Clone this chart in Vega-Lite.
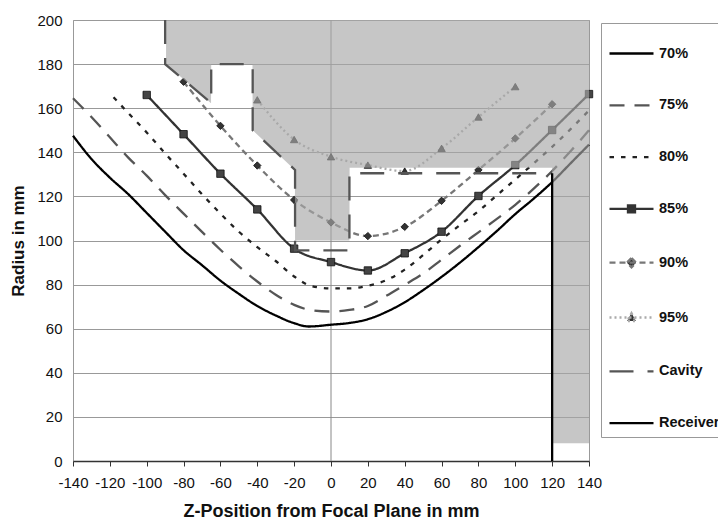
{
  "$schema": "https://vega.github.io/schema/vega-lite/v6.json",
  "width": 516,
  "height": 441,
  "autosize": {"type": "none"},
  "padding": {"left": 73, "top": 20, "right": 129, "bottom": 58},
  "background": "white",
  "config": {
    "view": {"stroke": "#999", "strokeWidth": 1},
    "axis": {"labelFont": "Liberation Sans", "labelFontSize": 15, "labelColor": "#111", "titleFont": "Liberation Sans", "titleFontSize": 18, "titleFontWeight": "bold", "titleColor": "#111"}
  },
  "datasets": {
    "curves": [
      {"series":"70%","x":-140,"y":147.5},{"series":"70%","x":-130,"y":137},{"series":"70%","x":-120,"y":128.5},{"series":"70%","x":-110,"y":121},{"series":"70%","x":-100,"y":112.5},{"series":"70%","x":-90,"y":104},{"series":"70%","x":-80,"y":95.6},{"series":"70%","x":-70,"y":88.8},{"series":"70%","x":-60,"y":81.8},{"series":"70%","x":-50,"y":75.8},{"series":"70%","x":-40,"y":70.3},{"series":"70%","x":-30,"y":66},{"series":"70%","x":-20,"y":62.5},{"series":"70%","x":-12,"y":61},{"series":"70%","x":0,"y":61.8},{"series":"70%","x":10,"y":62.6},{"series":"70%","x":20,"y":64.3},{"series":"70%","x":30,"y":67.6},{"series":"70%","x":40,"y":72},{"series":"70%","x":50,"y":77.5},{"series":"70%","x":60,"y":83.5},{"series":"70%","x":70,"y":90},{"series":"70%","x":80,"y":97},{"series":"70%","x":90,"y":104.3},{"series":"70%","x":100,"y":112},{"series":"70%","x":110,"y":119},{"series":"70%","x":120,"y":126.5},{"series":"70%","x":130,"y":135},{"series":"70%","x":140,"y":143.5},
      {"series":"75%","x":-140,"y":164.5},{"series":"75%","x":-130,"y":156},{"series":"75%","x":-120,"y":146.8},{"series":"75%","x":-110,"y":137.6},{"series":"75%","x":-100,"y":129.4},{"series":"75%","x":-90,"y":120.6},{"series":"75%","x":-80,"y":112.2},{"series":"75%","x":-70,"y":103.9},{"series":"75%","x":-60,"y":95.8},{"series":"75%","x":-50,"y":88.3},{"series":"75%","x":-40,"y":81.4},{"series":"75%","x":-30,"y":75.4},{"series":"75%","x":-20,"y":70.8},{"series":"75%","x":-10,"y":68.3},{"series":"75%","x":0,"y":67.8},{"series":"75%","x":10,"y":68.5},{"series":"75%","x":20,"y":70.3},{"series":"75%","x":30,"y":74.9},{"series":"75%","x":40,"y":79.9},{"series":"75%","x":50,"y":85},{"series":"75%","x":60,"y":91.3},{"series":"75%","x":70,"y":97.6},{"series":"75%","x":80,"y":103.7},{"series":"75%","x":90,"y":109.8},{"series":"75%","x":100,"y":116.2},{"series":"75%","x":110,"y":123.5},{"series":"75%","x":120,"y":131.5},{"series":"75%","x":130,"y":140.5},{"series":"75%","x":140,"y":150},
      {"series":"80%","x":-118,"y":165},{"series":"80%","x":-110,"y":157.8},{"series":"80%","x":-100,"y":149},{"series":"80%","x":-90,"y":139.5},{"series":"80%","x":-80,"y":130.3},{"series":"80%","x":-70,"y":121},{"series":"80%","x":-60,"y":112.2},{"series":"80%","x":-50,"y":104},{"series":"80%","x":-40,"y":97},{"series":"80%","x":-30,"y":90.7},{"series":"80%","x":-20,"y":83.7},{"series":"80%","x":-10,"y":79.2},{"series":"80%","x":0,"y":78.3},{"series":"80%","x":10,"y":78.3},{"series":"80%","x":20,"y":79.5},{"series":"80%","x":30,"y":82},{"series":"80%","x":40,"y":86.8},{"series":"80%","x":50,"y":93.4},{"series":"80%","x":60,"y":100.5},{"series":"80%","x":70,"y":107},{"series":"80%","x":80,"y":113.3},{"series":"80%","x":90,"y":120.5},{"series":"80%","x":100,"y":127.7},{"series":"80%","x":110,"y":135},{"series":"80%","x":120,"y":142.5},{"series":"80%","x":130,"y":150.5},{"series":"80%","x":140,"y":159},
      {"series":"85%","x":-100,"y":166},{"series":"85%","x":-80,"y":148.2},{"series":"85%","x":-60,"y":130.3},{"series":"85%","x":-40,"y":114.1},{"series":"85%","x":-20,"y":96.3},{"series":"85%","x":0,"y":90.2},{"series":"85%","x":20,"y":86.4},{"series":"85%","x":40,"y":94.2},{"series":"85%","x":60,"y":104},{"series":"85%","x":80,"y":120.2},{"series":"85%","x":100,"y":134.2},{"series":"85%","x":120,"y":150.1},{"series":"85%","x":140,"y":166.4},
      {"series":"90%","x":-80,"y":172},{"series":"90%","x":-60,"y":152},{"series":"90%","x":-40,"y":134},{"series":"90%","x":-20,"y":118.4},{"series":"90%","x":0,"y":108.2},{"series":"90%","x":20,"y":102},{"series":"90%","x":40,"y":106.2},{"series":"90%","x":60,"y":118},{"series":"90%","x":80,"y":132},{"series":"90%","x":100,"y":146.3},{"series":"90%","x":120,"y":161.8},
      {"series":"95%","x":-40,"y":163.8},{"series":"95%","x":-20,"y":145.8},{"series":"95%","x":0,"y":138},{"series":"95%","x":20,"y":134.2},{"series":"95%","x":40,"y":131.5},{"series":"95%","x":60,"y":141.8},{"series":"95%","x":80,"y":156},{"series":"95%","x":100,"y":169.8}
    ],
    "outline": [
      {"series":"Cavity","i":0,"x":-90,"y":200},{"series":"Cavity","i":1,"x":-90,"y":180},{"series":"Cavity","i":2,"x":-65,"y":162.3},{"series":"Cavity","i":3,"x":-65,"y":180},{"series":"Cavity","i":4,"x":-42.5,"y":180},{"series":"Cavity","i":5,"x":-42.5,"y":150},{"series":"Cavity","i":6,"x":-19.5,"y":132},{"series":"Cavity","i":7,"x":-19.5,"y":95.5},{"series":"Cavity","i":8,"x":10,"y":95.5},{"series":"Cavity","i":9,"x":10,"y":130.5},{"series":"Cavity","i":10,"x":120,"y":130.5},
      {"series":"Receiver","i":0,"x":120,"y":130.5},{"series":"Receiver","i":1,"x":120,"y":0}
    ],
    "shade": [
      {"x":-89.5,"y":180},{"x":-65.1,"y":162.3},{"x":-65,"y":180},{"x":-42.6,"y":180},{"x":-42.5,"y":150},{"x":-19.6,"y":132},{"x":-19.5,"y":100},{"x":10,"y":100},{"x":10.1,"y":133},{"x":120,"y":133},{"x":120.1,"y":8},{"x":140,"y":8}
    ],
    "zeroline": [{"x":0,"y":0},{"x":0,"y":200}]
  },
  "encoding": {
    "x": {"field": "x", "type": "quantitative", "scale": {"domain": [-140, 140], "nice": false, "zero": false},
      "axis": {"title": "Z-Position from Focal Plane in mm", "values": [-140,-120,-100,-80,-60,-40,-20,0,20,40,60,80,100,120,140], "grid": false, "tickSize": 5, "tickColor": "#333", "domainColor": "#333", "domainWidth": 1.5, "labelPadding": 9, "titlePadding": 12, "labelExpr": "'' + datum.value", "labelFlush": false, "labelOverlap": false}},
    "y": {"field": "y", "type": "quantitative", "scale": {"domain": [0, 200], "nice": false},
      "axis": {"title": "Radius in mm", "values": [0,20,40,60,80,100,120,140,160,180,200], "grid": true, "gridColor": "#999", "gridWidth": 1, "ticks": false, "domain": false, "labelPadding": 11, "titlePadding": 9, "titleFontSize": 17}}
  },
  "layer": [
    {
      "data": {"name": "zeroline"},
      "mark": {"type": "line", "color": "#888", "strokeWidth": 1}
    },
    {
      "data": {"name": "curves"},
      "mark": {"type": "line", "interpolate": "monotone"},
      "encoding": {
        "color": {"field": "series", "type": "nominal",
          "scale": {"domain": ["70%","75%","80%","85%","90%","95%","Cavity","Receiver"], "range": ["#000","#555","#222","#333","#777","#aaa","#555","#000"]},
          "legend": {"title": null, "orient": "none", "legendX": 528, "legendY": 3, "strokeColor": "#999", "fillColor": "#fff", "padding": 7, "symbolType": "stroke", "symbolSize": 1936, "labelFont": "Liberation Sans", "labelFontSize": 14.5, "labelFontWeight": "bold", "labelColor": "#111", "labelOffset": 4, "rowPadding": 21.8,
            "encode": {"symbols": {"update": {
              "shape": {"signal": "datum.value === '85%' ? 'M-1,0H1M-0.16,-0.16H0.16V0.16H-0.16Z' : datum.value === '90%' ? 'M-1,0H1M0,-0.21L0.21,0L0,0.21L-0.21,0Z' : datum.value === '95%' ? 'M-1,0H1M0,-0.2L0.2,0.16L-0.2,0.16Z' : 'M-1,0H1'"},
              "fill": {"signal": "indexof(['85%','90%','95%'], datum.value) >= 0 ? '#333' : 'transparent'"}}}}}},
        "strokeDash": {"field": "series", "type": "nominal",
          "scale": {"domain": ["70%","75%","80%","85%","90%","95%","Cavity","Receiver"], "range": [[1,0],[15,10],[4.5,7],[1,0],[6,4],[2,3],[24,14],[1,0]]}},
        "strokeWidth": {"field": "series", "type": "nominal",
          "scale": {"domain": ["70%","75%","80%","85%","90%","95%","Cavity","Receiver"], "range": [2.3,2.3,2,1.3,1.3,1.1,4,3]}}
      }
    },
    {
      "data": {"name": "curves"},
      "transform": [{"filter": "indexof(['85%','90%','95%'], datum.series) >= 0"}],
      "mark": {"type": "point", "filled": true, "stroke": "#111", "strokeWidth": 0.8, "opacity": 1},
      "encoding": {
        "shape": {"field": "series", "type": "nominal", "scale": {"domain": ["85%","90%","95%"], "range": ["square","diamond","triangle-up"]}, "legend": null},
        "fill": {"field": "series", "type": "nominal", "scale": {"domain": ["85%","90%","95%"], "range": ["#444","#333","#333"]}, "legend": null},
        "size": {"value": 55}
      }
    },
    {
      "data": {"name": "shade"},
      "mark": {"type": "area", "color": "#a8a8a8", "opacity": 0.65},
      "encoding": {
        "y2": {"datum": 200}
      }
    },
    {
      "data": {"name": "outline"},
      "mark": {"type": "line"},
      "encoding": {
        "order": {"field": "i", "type": "quantitative"},
        "color": {"field": "series", "type": "nominal",
          "scale": {"domain": ["70%","75%","80%","85%","90%","95%","Cavity","Receiver"], "range": ["#000","#555","#222","#333","#777","#aaa","#555","#000"]}},
        "strokeDash": {"field": "series", "type": "nominal",
          "scale": {"domain": ["70%","75%","80%","85%","90%","95%","Cavity","Receiver"], "range": [[1,0],[15,10],[4.5,7],[1,0],[6,4],[2,3],[24,14],[1,0]]}},
        "strokeWidth": {"field": "series", "type": "nominal",
          "scale": {"domain": ["70%","75%","80%","85%","90%","95%","Cavity","Receiver"], "range": [2.3,2.3,2,1.3,1.3,1.1,4,3]}}
      }
    }
  ]
}
